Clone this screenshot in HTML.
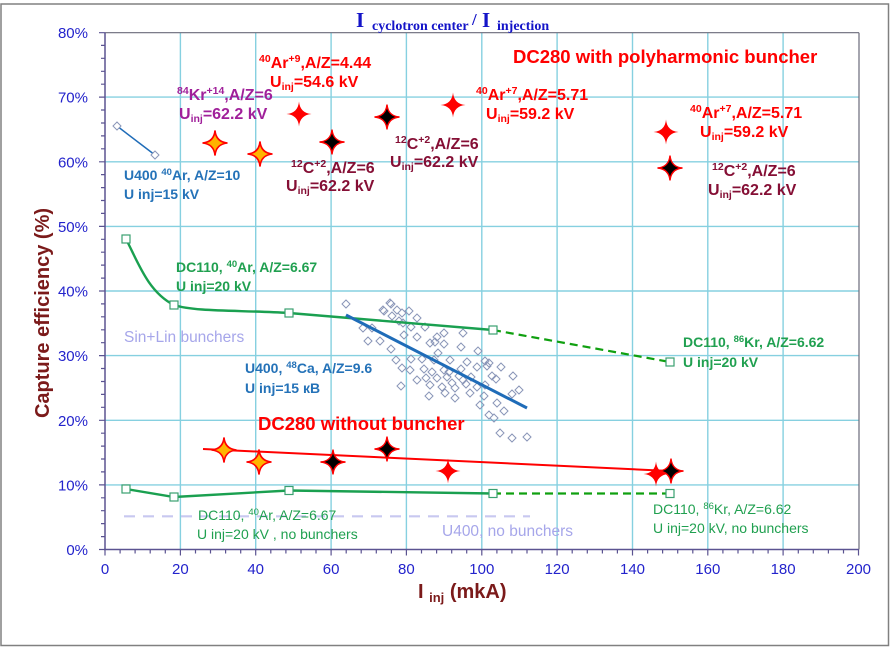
<!DOCTYPE html>
<html><head><meta charset="utf-8"><style>
html,body{margin:0;padding:0;background:#fff;}
svg{display:block;}
text{font-family:"Liberation Sans",Arial,sans-serif;}
.r{fill:#ff0000;font-weight:bold;font-size:16px;}
.p{fill:#a0209a;font-weight:bold;font-size:16px;}
.m{fill:#850f35;font-weight:bold;font-size:16px;}
.b{fill:#2472b8;font-weight:bold;font-size:14px;}
.g{fill:#20a050;font-weight:bold;font-size:14px;}
.gn{fill:#20a050;font-size:14px;}
.lv{fill:#a6a6ea;font-size:15.5px;}
.tk{fill:#2323cc;font-size:15px;}
text.ttl{font-family:"Liberation Serif","Times New Roman",serif;}
</style></head><body>
<svg width="891" height="647" viewBox="0 0 891 647" xmlns="http://www.w3.org/2000/svg">
<defs>
<path id="st" d="M0,-12.5 Q1,-1 12.5,0 Q1,1 0,12.5 Q-1,1 -12.5,0 Q-1,-1 0,-12.5Z"/>
</defs>
<rect x="0" y="0" width="891" height="647" fill="#fff"/>
<rect x="1" y="4" width="887.5" height="641.5" fill="none" stroke="#808080" stroke-width="1.5"/>

<!-- grid -->
<g stroke="#86d0e0" stroke-width="1.4">
<line x1="180.4" y1="33" x2="180.4" y2="549.5"/>
<line x1="255.7" y1="33" x2="255.7" y2="549.5"/>
<line x1="331.1" y1="33" x2="331.1" y2="549.5"/>
<line x1="406.4" y1="33" x2="406.4" y2="549.5"/>
<line x1="481.8" y1="33" x2="481.8" y2="549.5"/>
<line x1="557.1" y1="33" x2="557.1" y2="549.5"/>
<line x1="632.5" y1="33" x2="632.5" y2="549.5"/>
<line x1="707.8" y1="33" x2="707.8" y2="549.5"/>
<line x1="783.1" y1="33" x2="783.1" y2="549.5"/>
<line x1="105" y1="484.9" x2="859" y2="484.9"/>
<line x1="105" y1="420.3" x2="859" y2="420.3"/>
<line x1="105" y1="355.6" x2="859" y2="355.6"/>
<line x1="105" y1="291" x2="859" y2="291"/>
<line x1="105" y1="226.4" x2="859" y2="226.4"/>
<line x1="105" y1="161.8" x2="859" y2="161.8"/>
<line x1="105" y1="97.1" x2="859" y2="97.1"/>
</g>
<line x1="105" y1="32.7" x2="859" y2="32.7" stroke="#6a6a7a" stroke-width="1.2"/>
<line x1="859" y1="32.7" x2="859" y2="549.5" stroke="#6a6a7a" stroke-width="1.2"/>

<!-- axes -->
<g stroke="#5b5391" stroke-width="1.5">
<line x1="105" y1="32.7" x2="105" y2="550"/>
<line x1="104" y1="549.5" x2="859" y2="549.5"/>
</g>

<!-- title -->
<text class="ttl" y="27" fill="#1414c8" font-weight="bold" style="font-family:'Liberation Serif','Times New Roman',serif"><tspan x="356" font-size="21">I</tspan><tspan x="372" y="30" font-size="14">cyclotron center</tspan><tspan x="472" y="25" font-size="17">/</tspan><tspan x="482" y="27" font-size="21">I</tspan><tspan x="497" y="30" font-size="14">injection</tspan></text>

<!-- axis labels -->
<text transform="translate(49,313) rotate(-90)" text-anchor="middle" font-size="20" font-weight="bold" fill="#7b1a1a">Capture efficiency (%)</text>
<text x="418" y="598" font-size="20" font-weight="bold" fill="#7b1a1a">I <tspan font-size="13" dy="4">inj</tspan><tspan dy="-4"> (mkA)</tspan></text>

<!-- tick labels -->
<g text-anchor="end">
<text x="88" y="555" class="tk">0%</text>
<text x="88" y="490.4" class="tk">10%</text>
<text x="88" y="425.8" class="tk">20%</text>
<text x="88" y="361.1" class="tk">30%</text>
<text x="88" y="296.5" class="tk">40%</text>
<text x="88" y="231.9" class="tk">50%</text>
<text x="88" y="167.3" class="tk">60%</text>
<text x="88" y="102.6" class="tk">70%</text>
<text x="88" y="38" class="tk">80%</text>
</g>
<g text-anchor="middle">
<text x="105" y="574" class="tk">0</text>
<text x="180.4" y="574" class="tk">20</text>
<text x="255.7" y="574" class="tk">40</text>
<text x="331.1" y="574" class="tk">60</text>
<text x="406.4" y="574" class="tk">80</text>
<text x="481.8" y="574" class="tk">100</text>
<text x="557.1" y="574" class="tk">120</text>
<text x="632.5" y="574" class="tk">140</text>
<text x="707.8" y="574" class="tk">160</text>
<text x="783.1" y="574" class="tk">180</text>
<text x="858.5" y="574" class="tk">200</text>
</g>

<!-- lavender dashed U400 no bunchers -->
<line x1="124" y1="516.3" x2="530" y2="516.3" stroke="#c8c8f0" stroke-width="2.2" stroke-dasharray="11,8"/>

<!-- scatter diamonds -->
<path fill="none" stroke="#8a96b8" stroke-width="1" d="
M346,300l4,4l-4,4l-4,-4z M391,300l4,4l-4,4l-4,-4z M384,307l4,4l-4,4l-4,-4z M409,307l4,4l-4,4l-4,-4z
M402,309l4,4l-4,4l-4,-4z M392,312l4,4l-4,4l-4,-4z M417,314l4,4l-4,4l-4,-4z M399,317l4,4l-4,4l-4,-4z
M403,319l4,4l-4,4l-4,-4z M411,323l4,4l-4,4l-4,-4z M363,324l4,4l-4,4l-4,-4z M372,324l4,4l-4,4l-4,-4z
M425,323l4,4l-4,4l-4,-4z M404,331l4,4l-4,4l-4,-4z M417,333l4,4l-4,4l-4,-4z M444,329l4,4l-4,4l-4,-4z
M463,329l4,4l-4,4l-4,-4z M368,337l4,4l-4,4l-4,-4z M380,337l4,4l-4,4l-4,-4z M437,333l4,4l-4,4l-4,-4z
M430,339l4,4l-4,4l-4,-4z M435,338l4,4l-4,4l-4,-4z M444,340l4,4l-4,4l-4,-4z M461,343l4,4l-4,4l-4,-4z
M391,345l4,4l-4,4l-4,-4z M478,347l4,4l-4,4l-4,-4z M438,349l4,4l-4,4l-4,-4z M396,356l4,4l-4,4l-4,-4z
M411,355l4,4l-4,4l-4,-4z M422,355l4,4l-4,4l-4,-4z M434,356l4,4l-4,4l-4,-4z M450,356l4,4l-4,4l-4,-4z
M467,358l4,4l-4,4l-4,-4z M485,357l4,4l-4,4l-4,-4z M489,359l4,4l-4,4l-4,-4z M501,363l4,4l-4,4l-4,-4z
M402,364l4,4l-4,4l-4,-4z M410,366l4,4l-4,4l-4,-4z M424,365l4,4l-4,4l-4,-4z M432,368l4,4l-4,4l-4,-4z
M444,366l4,4l-4,4l-4,-4z M461,365l4,4l-4,4l-4,-4z M477,363l4,4l-4,4l-4,-4z M417,376l4,4l-4,4l-4,-4z
M426,374l4,4l-4,4l-4,-4z M437,374l4,4l-4,4l-4,-4z M447,373l4,4l-4,4l-4,-4z M459,372l4,4l-4,4l-4,-4z
M471,373l4,4l-4,4l-4,-4z M492,372l4,4l-4,4l-4,-4z M513,372l4,4l-4,4l-4,-4z M496,375l4,4l-4,4l-4,-4z
M401,382l4,4l-4,4l-4,-4z M430,381l4,4l-4,4l-4,-4z M442,383l4,4l-4,4l-4,-4z M452,379l4,4l-4,4l-4,-4z
M466,380l4,4l-4,4l-4,-4z M477,383l4,4l-4,4l-4,-4z M519,386l4,4l-4,4l-4,-4z M512,390l4,4l-4,4l-4,-4z
M429,392l4,4l-4,4l-4,-4z M445,389l4,4l-4,4l-4,-4z M455,394l4,4l-4,4l-4,-4z M470,389l4,4l-4,4l-4,-4z
M484,392l4,4l-4,4l-4,-4z M497,399l4,4l-4,4l-4,-4z M504,407l4,4l-4,4l-4,-4z M489,411l4,4l-4,4l-4,-4z
M500,429l4,4l-4,4l-4,-4z M512,434l4,4l-4,4l-4,-4z M527,433l4,4l-4,4l-4,-4z M383,306l4,4l-4,4l-4,-4z
M390,299l4,4l-4,4l-4,-4z M397,306l4,4l-4,4l-4,-4z M485,381l4,4l-4,4l-4,-4z M487,362l4,4l-4,4l-4,-4z
M449,368l4,4l-4,4l-4,-4z M455,384l4,4l-4,4l-4,-4z M463,376l4,4l-4,4l-4,-4z M480,401l4,4l-4,4l-4,-4z
M494,414l4,4l-4,4l-4,-4z"/>

<!-- green upper curve DC110 40Ar -->
<path d="M126,239 C138,262 148,292 174,305 C195,312 240,310 289,313 L493,330" fill="none" stroke="#1aa050" stroke-width="2.4"/>
<line x1="493" y1="330" x2="670" y2="362" stroke="#10a010" stroke-width="2.2" stroke-dasharray="8,5"/>
<!-- blue regression -->
<line x1="346" y1="315" x2="527" y2="408" stroke="#1f6cb8" stroke-width="3"/>
<!-- green lower -->
<path d="M126,489 L174,497 L289,490.5 L493,493.5" fill="none" stroke="#1aa050" stroke-width="2.4"/>
<line x1="493" y1="493.5" x2="670" y2="493.5" stroke="#10a010" stroke-width="2.2" stroke-dasharray="8,5"/>
<!-- red line -->
<line x1="203" y1="449" x2="670" y2="471" stroke="#ff0000" stroke-width="2"/>
<!-- U400 40Ar small -->
<line x1="117" y1="126" x2="155" y2="155" stroke="#1f6cb8" stroke-width="1.5"/>
<path fill="#fff" stroke="#8a96b8" stroke-width="1" d="M117,122l4,4l-4,4l-4,-4z M155,151l4,4l-4,4l-4,-4z"/>

<!-- green squares -->
<g fill="#fff" stroke="#3aa070" stroke-width="1.2">
<rect x="122" y="235" width="8" height="8"/>
<rect x="170" y="301" width="8" height="8"/>
<rect x="285" y="309" width="8" height="8"/>
<rect x="489" y="326" width="8" height="8"/>
<rect x="666" y="358" width="8" height="8"/>
<rect x="122" y="485" width="8" height="8"/>
<rect x="170" y="493" width="8" height="8"/>
<rect x="285" y="486.5" width="8" height="8"/>
<rect x="489" y="489.5" width="8" height="8"/>
<rect x="666" y="489.5" width="8" height="8"/>
</g>

<!-- stars upper -->
<use href="#st" x="215" y="143" fill="#ffb400" stroke="#ff0000" stroke-width="1.6"/>
<use href="#st" x="260" y="154" fill="#ffb400" stroke="#ff0000" stroke-width="1.6"/>
<use href="#st" x="299" y="114" fill="#ff0000"/>
<use href="#st" x="332" y="142" fill="#000" stroke="#ff0000" stroke-width="1.4"/>
<use href="#st" x="387" y="117" fill="#000" stroke="#ff0000" stroke-width="1.4"/>
<use href="#st" x="453" y="105" fill="#ff0000"/>
<use href="#st" x="666" y="132" fill="#ff0000"/>
<use href="#st" x="670" y="168" fill="#000" stroke="#ff0000" stroke-width="1.4"/>
<!-- stars lower -->
<use href="#st" x="224" y="450" fill="#ffb400" stroke="#ff0000" stroke-width="1.6"/>
<use href="#st" x="259" y="462" fill="#ffb400" stroke="#ff0000" stroke-width="1.6"/>
<use href="#st" x="333" y="462" fill="#000" stroke="#ff0000" stroke-width="1.4"/>
<use href="#st" x="387" y="449" fill="#000" stroke="#ff0000" stroke-width="1.4"/>
<use href="#st" x="448" y="471" fill="#ff0000"/>
<use href="#st" x="656" y="474" fill="#ff0000"/>
<use href="#st" x="671" y="471" fill="#000" stroke="#ff0000" stroke-width="1.4"/>

<!-- red labels -->
<text x="513" y="63" fill="#ff0000" font-weight="bold" font-size="18.5">DC280 with polyharmonic buncher</text>
<text x="258" y="430" fill="#ff0000" font-weight="bold" font-size="18.5">DC280 without buncher</text>

<text x="259" y="68" class="r"><tspan font-size="10.5" dy="-6">40</tspan><tspan dy="6">Ar</tspan><tspan font-size="10.5" dy="-6">+9</tspan><tspan dy="6">,A/Z=4.44</tspan></text>
<text x="270" y="87" class="r">U<tspan font-size="10.5" dy="3">inj</tspan><tspan dy="-3">=54.6 kV</tspan></text>

<text x="177" y="100" class="p"><tspan font-size="10.5" dy="-6">84</tspan><tspan dy="6">Kr</tspan><tspan font-size="10.5" dy="-6">+14</tspan><tspan dy="6">,A/Z=6</tspan></text>
<text x="179" y="119" class="p">U<tspan font-size="10.5" dy="3">inj</tspan><tspan dy="-3">=62.2 kV</tspan></text>

<text x="291" y="173" class="m"><tspan font-size="10.5" dy="-6">12</tspan><tspan dy="6">C</tspan><tspan font-size="10.5" dy="-6">+2</tspan><tspan dy="6">,A/Z=6</tspan></text>
<text x="286" y="191" class="m">U<tspan font-size="10.5" dy="3">inj</tspan><tspan dy="-3">=62.2 kV</tspan></text>

<text x="395" y="149" class="m"><tspan font-size="10.5" dy="-6">12</tspan><tspan dy="6">C</tspan><tspan font-size="10.5" dy="-6">+2</tspan><tspan dy="6">,A/Z=6</tspan></text>
<text x="390" y="167" class="m">U<tspan font-size="10.5" dy="3">inj</tspan><tspan dy="-3">=62.2 kV</tspan></text>

<text x="476" y="100" class="r"><tspan font-size="10.5" dy="-6">40</tspan><tspan dy="6">Ar</tspan><tspan font-size="10.5" dy="-6">+7</tspan><tspan dy="6">,A/Z=5.71</tspan></text>
<text x="486" y="119" class="r">U<tspan font-size="10.5" dy="3">inj</tspan><tspan dy="-3">=59.2 kV</tspan></text>

<text x="690" y="118" class="r"><tspan font-size="10.5" dy="-6">40</tspan><tspan dy="6">Ar</tspan><tspan font-size="10.5" dy="-6">+7</tspan><tspan dy="6">,A/Z=5.71</tspan></text>
<text x="700" y="137" class="r">U<tspan font-size="10.5" dy="3">inj</tspan><tspan dy="-3">=59.2 kV</tspan></text>

<text x="712" y="176" class="m"><tspan font-size="10.5" dy="-6">12</tspan><tspan dy="6">C</tspan><tspan font-size="10.5" dy="-6">+2</tspan><tspan dy="6">,A/Z=6</tspan></text>
<text x="708" y="195" class="m">U<tspan font-size="10.5" dy="3">inj</tspan><tspan dy="-3">=62.2 kV</tspan></text>

<!-- blue labels -->
<text x="124" y="180" class="b">U400 <tspan font-size="9.5" dy="-5">40</tspan><tspan dy="5">Ar, A/Z=10</tspan></text>
<text x="124" y="199" class="b">U inj=15 kV</text>
<text x="245" y="373" class="b">U400, <tspan font-size="9.5" dy="-5">48</tspan><tspan dy="5">Ca, A/Z=9.6</tspan></text>
<text x="245" y="393" class="b">U inj=15 кВ</text>

<!-- green labels -->
<text x="176" y="272" class="g">DC110, <tspan font-size="9.5" dy="-5">40</tspan><tspan dy="5">Ar, A/Z=6.67</tspan></text>
<text x="176" y="291" class="g">U inj=20 kV</text>
<text x="683" y="347" class="g">DC110, <tspan font-size="9.5" dy="-5">86</tspan><tspan dy="5">Kr, A/Z=6.62</tspan></text>
<text x="683" y="367" class="g">U inj=20 kV</text>

<text x="198" y="520" class="gn">DC110, <tspan font-size="9.5" dy="-5">40</tspan><tspan dy="5">Ar, A/Z=6.67</tspan></text>
<text x="197" y="539" class="gn">U inj=20 kV , no bunchers</text>
<text x="653" y="514" class="gn">DC110, <tspan font-size="9.5" dy="-5">86</tspan><tspan dy="5">Kr, A/Z=6.62</tspan></text>
<text x="653" y="533" class="gn">U inj=20 kV, no bunchers</text>

<!-- lavender labels -->
<text x="124" y="342" class="lv">Sin+Lin bunchers</text>
<text x="442" y="536" class="lv">U400, no bunchers</text>

<!-- ticks -->
<g stroke="#5b5391" stroke-width="1.2">
<path d="M99,549.5h6 M101,536.6h4 M101,523.6h4 M101,510.7h4 M101,497.8h4 M99,484.9h6 M101,471.9h4 M101,459h4 M101,446.1h4 M101,433.2h4 M99,420.3h6 M101,407.3h4 M101,394.4h4 M101,381.5h4 M101,368.5h4 M99,355.6h6 M101,342.7h4 M101,329.8h4 M101,316.8h4 M101,303.9h4 M99,291h6 M101,278.1h4 M101,265.1h4 M101,252.2h4 M101,239.3h4 M99,226.4h6 M101,213.4h4 M101,200.5h4 M101,187.6h4 M101,174.6h4 M99,161.8h6 M101,148.8h4 M101,135.9h4 M101,123h4 M101,110h4 M99,97.1h6 M101,84.2h4 M101,71.3h4 M101,58.3h4 M101,45.4h4 M99,32.7h6"/>
<path d="M105,549.5v6 M120.1,549.5v4 M135.1,549.5v4 M150.2,549.5v4 M165.3,549.5v4 M180.4,549.5v6 M195.5,549.5v4 M210.5,549.5v4 M225.6,549.5v4 M240.7,549.5v4 M255.7,549.5v6 M270.8,549.5v4 M285.9,549.5v4 M301,549.5v4 M316,549.5v4 M331.1,549.5v6 M346.2,549.5v4 M361.2,549.5v4 M376.3,549.5v4 M391.4,549.5v4 M406.4,549.5v6 M421.5,549.5v4 M436.6,549.5v4 M451.7,549.5v4 M466.7,549.5v4 M481.8,549.5v6 M496.9,549.5v4 M511.9,549.5v4 M527,549.5v4 M542.1,549.5v4 M557.1,549.5v6 M572.2,549.5v4 M587.3,549.5v4 M602.4,549.5v4 M617.4,549.5v4 M632.5,549.5v6 M647.6,549.5v4 M662.6,549.5v4 M677.7,549.5v4 M692.8,549.5v4 M707.8,549.5v6 M722.9,549.5v4 M738,549.5v4 M753.1,549.5v4 M768.1,549.5v4 M783.1,549.5v6 M798.3,549.5v4 M813.3,549.5v4 M828.4,549.5v4 M843.5,549.5v4 M858.5,549.5v6"/>
</g>
</svg>
</body></html>
